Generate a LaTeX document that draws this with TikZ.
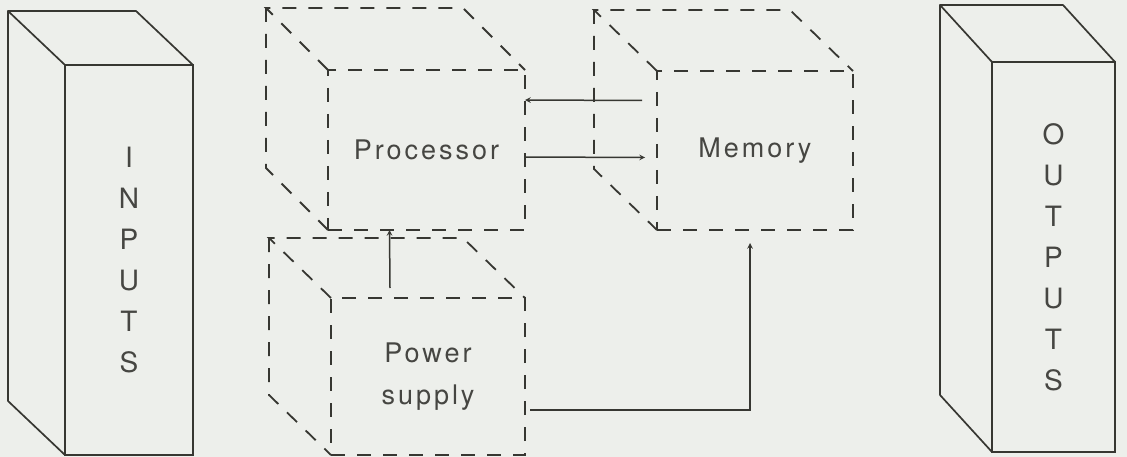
\documentclass[tikz,border=0pt]{standalone}
\usepackage{fontspec}
\setmainfont{TeX Gyre Heros}
\newfontfamily\boxfont[LetterSpace=11]{TeX Gyre Heros}
\usetikzlibrary{arrows, calc}
\definecolor{paper}{RGB}{237,239,235}
\definecolor{ink}{RGB}{55,55,50}
\definecolor{print}{RGB}{70,70,66}
\tikzstyle{solidface} = [
    rectangle,
    draw=ink,
    line width=1.7pt,
    inner sep=0pt,
    outer sep=0pt,
    text=print,
    align=center,
    font=\fontsize{28}{41}\selectfont
]
\tikzstyle{dashedface} = [
    rectangle,
    draw=ink,
    line width=1.8pt,
    dash pattern=on 14pt off 12pt,
    inner sep=0pt,
    outer sep=0pt,
    text=print,
    align=center,
    font=\boxfont\fontsize{27}{42}\selectfont
]
\tikzstyle{solidedge} = [draw=ink, line width=1.7pt, line join=round]
\tikzstyle{dashededge} = [draw=ink, line width=1.8pt, dash pattern=on 14pt off 12pt]
\tikzstyle{arrow} = [draw=ink, line width=1.5pt, ->, >=stealth]
\begin{document}
\begin{tikzpicture}[x=1pt, y=-1pt]

\fill [paper] (0,0) rectangle (1127,457);

\node (inputs) [solidface, minimum width=128pt, minimum height=390pt] at (129,260)
{I\\N\\P\\U\\T\\S};

\node (outputs) [solidface, minimum width=123pt, minimum height=390pt] at (1053.5,257)
{O\\U\\T\\P\\U\\T\\S};

\node (processor) [dashedface, minimum width=197pt, minimum height=160pt] at (426.5,150)
{Processor};

\node (memory) [dashedface, minimum width=196pt, minimum height=159pt] at (755,150.5)
{Memory};

\node (power) [dashedface, minimum width=194pt, minimum height=157pt] at (428,376.5)
{Power\\supply};

% back edges of the solid boxes
\draw [solidedge] (inputs.north west) -- ++(-57,-54) coordinate (inback) -- ++(128,0) -- (inputs.north east);
\draw [solidedge] (inback) -- ++(0,390) -- (inputs.south west);
\draw [solidedge] (outputs.north west) -- ++(-52,-57) coordinate (outback) -- ++(123,0) -- (outputs.north east);
\draw [solidedge] (outback) -- ++(0,390) -- (outputs.south west);

% back edges of the dashed boxes
\draw [dashededge] (processor.north west) -- ++(-62,-62) coordinate (procback) -- ++(197,0) -- (processor.north east);
\draw [dashededge] (procback) -- ++(0,160) -- (processor.south west);
\draw [dashededge] (memory.north west) -- ++(-63,-61) coordinate (memback) -- ++(196,0) -- (memory.north east);
\draw [dashededge] (memback) -- ++(0,159) -- (memory.south west);
\draw [dashededge] (power.north west) -- ++(-62,-60) coordinate (powback) -- ++(194,0) -- (power.north east);
\draw [dashededge] (powback) -- ++(0,157) -- (power.south west);

\draw [arrow] ($(memory.west)+(-15,-50)$) -- ($(processor.east)+(0,-50)$);
\draw [arrow] ($(processor.east)+(0,7)$) -- ($(memory.west)+(-12,7)$);
\draw [arrow] ($(power.north)+(-38,-10)$) -- ($(processor.south)+(-37,0)$);
\draw [arrow] ($(power.east)+(5,33.5)$) -| ($(memory.south)+(-5,13)$);

\end{tikzpicture}
\end{document}
